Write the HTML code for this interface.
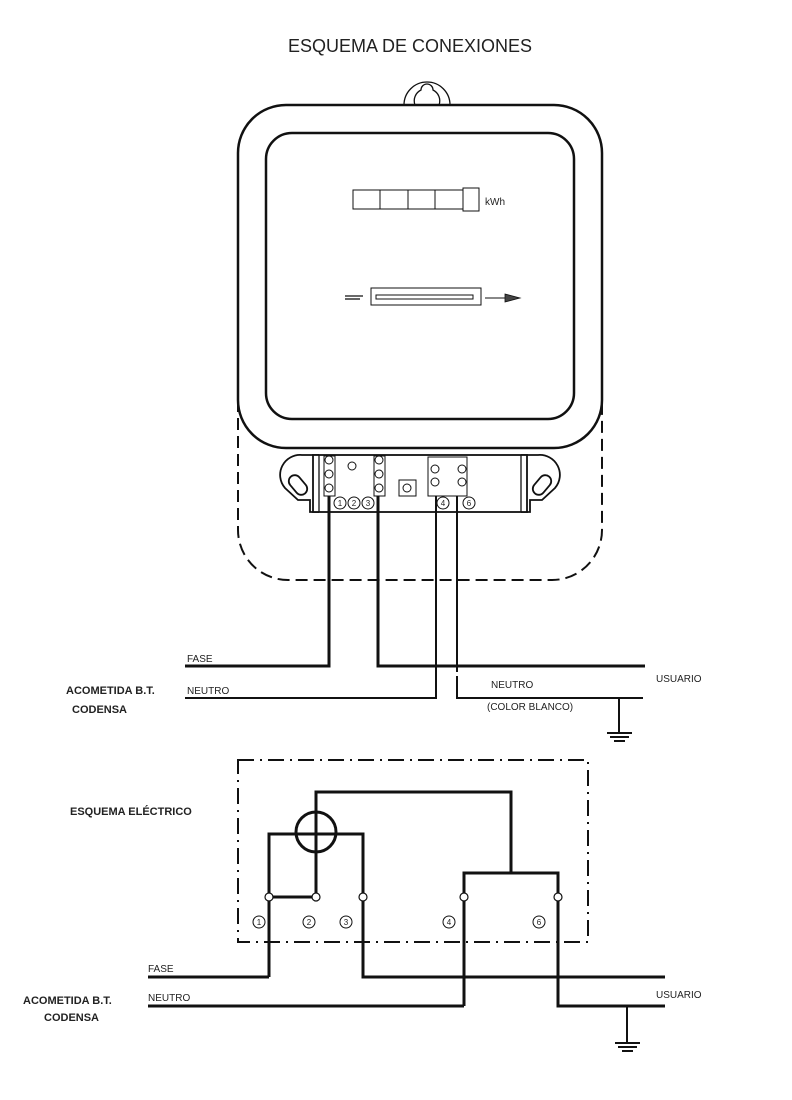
<!DOCTYPE html>
<html><head><meta charset="utf-8"><style>
body{margin:0;background:#fff}
svg{display:block}
text{font-family:"Liberation Sans",sans-serif;fill:#222}
</style></head><body>
<svg width="792" height="1100" viewBox="0 0 792 1100" xmlns="http://www.w3.org/2000/svg">
<text x="410" y="52" font-size="18" text-anchor="middle">ESQUEMA DE CONEXIONES</text>
<g fill="none" stroke="#111">
<!-- hook -->
<path d="M404,105 A23,23 0 0 1 450,105" stroke-width="1.3"/>
<path d="M415,105 A12,12 0 0 1 421,90 A6,6 0 1 1 433,90 A12,12 0 0 1 439,105" stroke-width="1.3"/>
<!-- outer frame -->
<rect x="238" y="105" width="364" height="343" rx="48" stroke-width="2.5" fill="#fff"/>
<rect x="266" y="133" width="308" height="286" rx="26" stroke-width="2.5"/>
<!-- dashed extension -->
<path d="M238,400 V530 A50,50 0 0 0 288,580 H552 A50,50 0 0 0 602,530 V400" stroke-width="2" stroke-dasharray="12,6"/>
<!-- counter -->
<rect x="353" y="190" width="110" height="19" stroke-width="1"/>
<line x1="380" y1="190" x2="380" y2="209" stroke-width="1"/>
<line x1="408" y1="190" x2="408" y2="209" stroke-width="1"/>
<line x1="435" y1="190" x2="435" y2="209" stroke-width="1"/>
<rect x="463" y="188" width="16" height="23" stroke-width="1"/>
<!-- slot -->
<rect x="371" y="288" width="110" height="17" stroke-width="1"/>
<rect x="376" y="295" width="97" height="4" stroke-width="1"/>
<line x1="345" y1="296" x2="363" y2="296" stroke-width="1.3"/>
<line x1="345" y1="299" x2="360" y2="299" stroke-width="1.3"/>
<line x1="485" y1="298" x2="510" y2="298" stroke-width="1"/>
<path d="M505,294 L520,298 L505,302 Z" fill="#444" stroke-width="0.8"/>
<!-- terminal block -->
<path d="M319,455 H302 A20,20 0 0 0 285,488 L298,500 H310 V512 H319" stroke-width="1.8" fill="#fff"/>
<path d="M521,455 H538 A20,20 0 0 1 555,488 L542,500 H530 V512 H521" stroke-width="1.8" fill="#fff"/>
<rect x="313" y="455" width="214" height="57" stroke-width="1.8" fill="#fff"/>
<line x1="319" y1="455" x2="319" y2="512" stroke-width="1.3"/>
<line x1="521" y1="455" x2="521" y2="512" stroke-width="1.3"/>
<rect x="292" y="474" width="12" height="22" rx="6" transform="rotate(-40 298 485)" stroke-width="1.8"/>
<rect x="536" y="474" width="12" height="22" rx="6" transform="rotate(40 542 485)" stroke-width="1.8"/>
<rect x="324" y="456" width="11" height="40" stroke-width="1"/>
<rect x="374" y="456" width="11" height="40" stroke-width="1"/>
<rect x="428" y="457" width="39" height="39" stroke-width="1"/>
<rect x="399" y="480" width="17" height="16" stroke-width="1"/>
<g stroke-width="1">
<circle cx="329" cy="460" r="4"/><circle cx="329" cy="474" r="4"/><circle cx="329" cy="488" r="4"/>
<circle cx="352" cy="466" r="4"/>
<circle cx="379" cy="460" r="4"/><circle cx="379" cy="474" r="4"/><circle cx="379" cy="488" r="4"/>
<circle cx="407" cy="488" r="4"/>
<circle cx="435" cy="469" r="4"/><circle cx="435" cy="482" r="4"/>
<circle cx="462" cy="469" r="4"/><circle cx="462" cy="482" r="4"/>
<circle cx="340" cy="503" r="6"/><circle cx="354" cy="503" r="6"/><circle cx="368" cy="503" r="6"/>
<circle cx="443" cy="503" r="6"/><circle cx="469" cy="503" r="6"/>
</g>
<!-- wires top -->
<path d="M329,496 V666 H185" stroke-width="3"/>
<path d="M378,496 V666 H645" stroke-width="3"/>
<path d="M436,496 V698 H185" stroke-width="2"/>
<path d="M457,496 V672 M457,676 V698 H643" stroke-width="2"/>
<path d="M619,698 V733 M607,733 H632 M610,737 H629 M614,741 H625" stroke-width="2"/>
<!-- bottom scheme -->
<rect x="238" y="760" width="350" height="182" stroke-width="2" stroke-dasharray="16,6,2,6"/>
<circle cx="316" cy="832" r="20" stroke-width="3"/>
<path d="M316,897 V792 H511 V873" stroke-width="3"/>
<path d="M269,977 V834 H363 V977 H665" stroke-width="3"/>
<path d="M269,897 H316" stroke-width="3"/>
<path d="M269,977 H148" stroke-width="3"/>
<path d="M464,1006 V873 H558 V1006 H665" stroke-width="3"/>
<path d="M464,1006 H148" stroke-width="3"/>
<path d="M627,1006 V1043 M615,1043 H640 M618,1047 H637 M622,1051 H633" stroke-width="2"/>
<g fill="#fff" stroke-width="1.2">
<circle cx="269" cy="897" r="4"/><circle cx="316" cy="897" r="4"/><circle cx="363" cy="897" r="4"/>
<circle cx="464" cy="897" r="4"/><circle cx="558" cy="897" r="4"/>
</g>
<g stroke-width="1">
<circle cx="259" cy="922" r="6"/><circle cx="309" cy="922" r="6"/><circle cx="346" cy="922" r="6"/>
<circle cx="449" cy="922" r="6"/><circle cx="539" cy="922" r="6"/>
</g>
</g>
<g font-size="8" text-anchor="middle">
<text x="340" y="506">1</text><text x="354" y="506">2</text><text x="368" y="506">3</text>
<text x="443" y="506">4</text><text x="469" y="506">6</text>
<text x="259" y="925">1</text><text x="309" y="925">2</text><text x="346" y="925">3</text>
<text x="449" y="925">4</text><text x="539" y="925">6</text>
</g>
<text x="485" y="205" font-size="10">kWh</text>
<g font-size="10">
<text x="187" y="662">FASE</text>
<text x="187" y="694">NEUTRO</text>
<text x="491" y="688">NEUTRO</text>
<text x="487" y="710">(COLOR BLANCO)</text>
<text x="656" y="682">USUARIO</text>
<text x="148" y="972">FASE</text>
<text x="148" y="1001">NEUTRO</text>
<text x="656" y="998">USUARIO</text>
</g>
<g font-size="11" font-weight="bold">
<text x="66" y="694">ACOMETIDA B.T.</text>
<text x="72" y="713">CODENSA</text>
<text x="70" y="815">ESQUEMA ELÉCTRICO</text>
<text x="23" y="1004">ACOMETIDA B.T.</text>
<text x="44" y="1021">CODENSA</text>
</g>
</svg>
</body></html>
